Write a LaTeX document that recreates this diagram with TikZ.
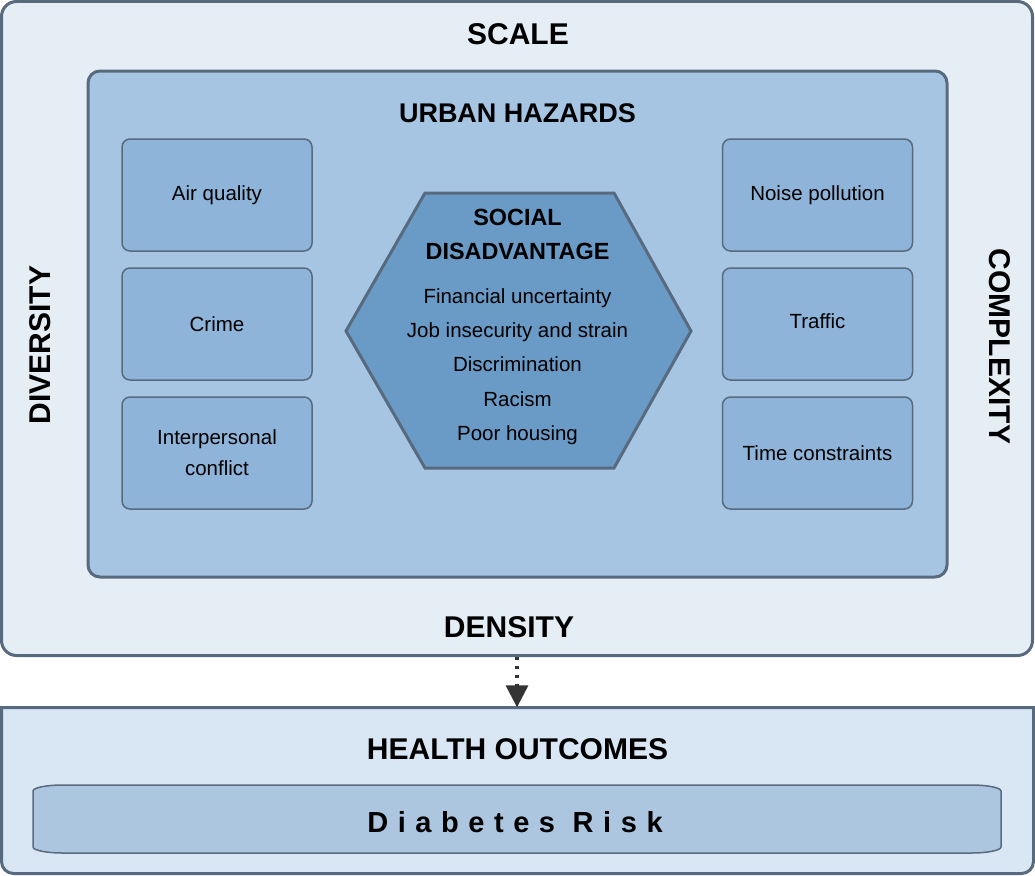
\documentclass[tikz,border=0pt]{standalone}
\usepackage{fontspec}
\setmainfont{Liberation Sans}
\newfontfamily\spacedfont[LetterSpace=33]{Liberation Sans}
\usetikzlibrary{arrows.meta}
\definecolor{edgecol}{RGB}{88,106,126}
\definecolor{outerfill}{RGB}{229,237,245}
\definecolor{urbanfill}{RGB}{165,197,227}
\definecolor{boxfill}{RGB}{143,180,217}
\definecolor{hexfill}{RGB}{106,154,198}
\definecolor{healthfill}{RGB}{217,231,244}
\definecolor{diabfill}{RGB}{173,198,224}
\definecolor{arrowcol}{RGB}{51,51,51}
\begin{document}
\begin{tikzpicture}[x=1pt,y=-1pt,
  bigtitle/.style={inner sep=0pt, font=\fontsize{30}{36}\selectfont\bfseries},
  midtitle/.style={inner sep=0pt, font=\fontsize{27}{32}\selectfont\bfseries},
  hextitle/.style={inner sep=0pt, anchor=base, font=\fontsize{23.4}{28}\selectfont\bfseries},
  hexitem/.style={inner sep=0pt, anchor=base, font=\fontsize{20.5}{25}\selectfont},
  hazbox/.style={draw=edgecol, line width=1.5pt, fill=boxfill, rounded corners=8pt,
    minimum width=190pt, minimum height=112pt, inner sep=0pt, align=center,
    font=\fontsize{20.5}{31}\selectfont},
  flowarrow/.style={draw=arrowcol, line width=3.3pt, dash pattern=on 3.3pt off 5.7pt,
    -{Triangle[width=22pt,length=22pt]}, arrowcol}
]
\useasboundingbox (0,0) rectangle (1035,875);

% outer frame
\node[draw=edgecol, line width=3pt, fill=outerfill, rounded corners=15pt,
  minimum width=1031pt, minimum height=654pt, inner sep=0pt] (outer) at (517,328.5) {};
\node[bigtitle] (scale) at (518,34) {SCALE};
\node[bigtitle] (density) at (509,627) {DENSITY};
\node[bigtitle, rotate=90] (diversity) at (40,345) {DIVERSITY};
\node[bigtitle, rotate=-90] (complexity) at (1000,346.5) {COMPLEXITY};

% urban hazards frame
\node[draw=edgecol, line width=3pt, fill=urbanfill, rounded corners=12pt,
  minimum width=859pt, minimum height=506pt, inner sep=0pt] (urban) at (517.5,324) {};
\node[midtitle] (urbantitle) at (517.5,113) {URBAN HAZARDS};

% hazard boxes
\node[hazbox] (air) at (217,195) {Air quality};
\node[hazbox] (crime) at (217,324) {Crime};
\node[hazbox] (conflict) at (217,453) {Interpersonal\\conflict};
\node[hazbox] (noise) at (817.5,195) {Noise pollution};
\node[hazbox] (traffic) at (817.5,324) {\raisebox{5pt}{Traffic}};
\node[hazbox] (time) at (817.5,453) {Time constraints};

% social disadvantage hexagon
\draw[draw=edgecol, line width=3pt, fill=hexfill, line join=miter]
  (425,193) -- (614,193) -- (691,331) -- (614,468) -- (425,468) -- (346,331) -- cycle;
\node[hextitle] (social) at (517.5,225.4) {SOCIAL};
\node[hextitle] (disadv) at (517.5,259.4) {DISADVANTAGE};
\node[hexitem] (fin) at (517.5,303.3) {Financial uncertainty};
\node[hexitem] (job) at (517.5,337.3) {Job insecurity and strain};
\node[hexitem] (disc) at (517.5,371.5) {Discrimination};
\node[hexitem] (racism) at (517.5,406.3) {Racism};
\node[hexitem] (housing) at (517.5,440.5) {Poor housing};

% health outcomes box
\draw[draw=edgecol, line width=3pt, fill=healthfill]
  (1.5,707.5) -- (1033.5,707.5) -- (1033.5,861.5)
  arc[start angle=0, end angle=90, radius=12] -- (13.5,873.5)
  arc[start angle=90, end angle=180, radius=12] -- cycle;
\node[inner sep=0pt, minimum width=1032pt, minimum height=166pt] (health) at (517.5,790.5) {};
\node[bigtitle] (healthtitle) at (517.5,749) {HEALTH OUTCOMES};

% diabetes risk box
\draw[draw=edgecol, line width=1.5pt, fill=diabfill]
  (63,785) -- (971,785)
  arc[start angle=-90, end angle=0, x radius=30, y radius=6] -- (1001,847)
  arc[start angle=0, end angle=90, x radius=30, y radius=6] -- (63,853)
  arc[start angle=90, end angle=180, x radius=30, y radius=6] -- (33,791)
  arc[start angle=180, end angle=270, x radius=30, y radius=6] -- cycle;
\node[inner sep=0pt, anchor=base, font=\fontsize{29}{34}\spacedfont\bfseries] (diabetes)
  at (515,832.7) {Diabetes Risk};

% connector
\draw[flowarrow] (outer.south) -- (outer.south |- health.north);
\end{tikzpicture}
\end{document}
